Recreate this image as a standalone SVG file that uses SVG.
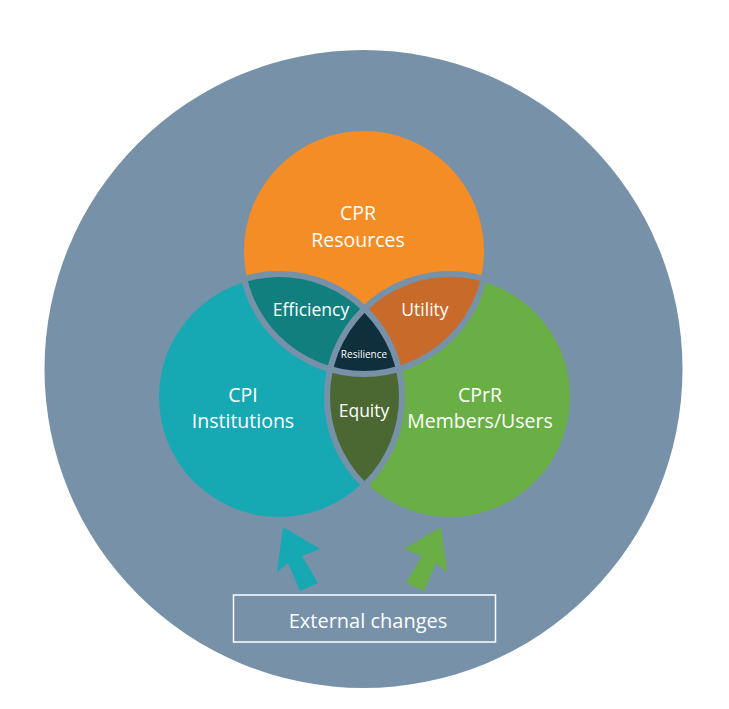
<svg xmlns="http://www.w3.org/2000/svg" width="729" height="709" viewBox="0 0 729 709">
<style>
.t{font-family:"Open Sans","Liberation Sans",sans-serif;fill:#ffffff;text-anchor:middle}
.big{font-size:19.5px}
.mid{font-size:17.5px}
.sm{font-size:10px}
.ring{fill:none;stroke:#7691a8;stroke-width:6}
</style>
<defs>
<clipPath id="cO"><circle cx="364" cy="251" r="123"/></clipPath>
<clipPath id="cT"><circle cx="279" cy="397" r="123"/></clipPath>
<clipPath id="cG"><circle cx="450" cy="397" r="123"/></clipPath>
</defs>
<rect width="729" height="709" fill="#ffffff"/>
<g id="background"><circle cx="363.5" cy="369" r="319" fill="#7691a8"/></g>
<g id="resources"><circle cx="364" cy="251" r="123" fill="#f48d25"/></g>
<g id="institutions"><circle cx="279" cy="397" r="123" fill="#17a9b3"/></g>
<g id="members"><circle cx="450" cy="397" r="123" fill="#6aaf45"/></g>
<g id="efficiency"><g clip-path="url(#cO)"><circle cx="279" cy="397" r="123" fill="#127f7f"/></g></g>
<g id="utility"><g clip-path="url(#cO)"><circle cx="450" cy="397" r="123" fill="#c86a2a"/></g></g>
<g id="equity"><g clip-path="url(#cT)"><circle cx="450" cy="397" r="123" fill="#4b6832"/></g></g>
<g id="resilience"><g clip-path="url(#cT)"><g clip-path="url(#cO)"><circle cx="450" cy="397" r="123" fill="#0e2f3b"/></g></g></g>
<g id="outlines">
<circle class="ring" cx="364" cy="251" r="123"/>
<circle class="ring" cx="279" cy="397" r="123"/>
<circle class="ring" cx="450" cy="397" r="123"/>
</g>
<g id="labels">
<text class="t big" x="358" y="220">CPR</text>
<text class="t big" x="358" y="246.5">Resources</text>
<text class="t big" x="243" y="402">CPI</text>
<text class="t big" x="243" y="428">Institutions</text>
<text class="t big" x="480" y="402">CPrR</text>
<text class="t big" x="480" y="428">Members/Users</text>
<text class="t mid" x="311" y="316">Efficiency</text>
<text class="t mid" x="425" y="316">Utility</text>
<text class="t sm" x="364" y="357.5">Resilience</text>
<text class="t mid" x="364" y="417">Equity</text>
</g>
<g id="connectors">
<polygon points="283,527 320,549 302,556 318,583 300,591 288,563 277,572" fill="#17a9b3"/>
<polygon points="441,527 404,549 422,556 406,583 424,591 436,563 447,572" fill="#6aaf45"/>
</g>
<g id="external">
<rect x="233.5" y="595" width="262" height="47" fill="none" stroke="#ffffff" stroke-width="1.5"/>
<text class="t" style="font-size:20px" x="368" y="628">External changes</text>
</g>
</svg>
